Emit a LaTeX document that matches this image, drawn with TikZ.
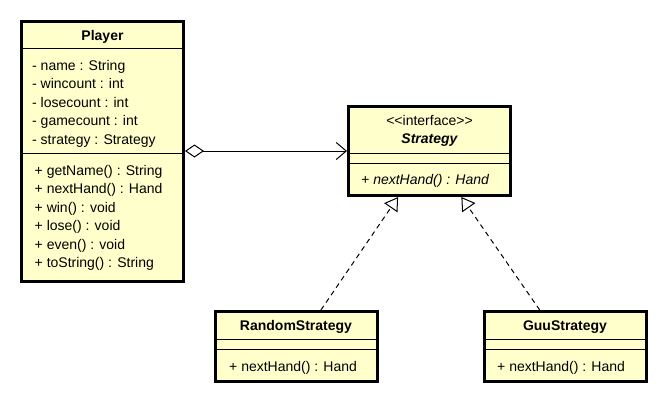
\documentclass[tikz,border=0pt]{standalone}
\usepackage{fontspec}
\setmainfont{Liberation Sans}
\usetikzlibrary{arrows.meta,calc}
\definecolor{classfill}{RGB}{255,255,204}
\newcommand{\umlfont}{\fontsize{14}{17}\selectfont}
\begin{document}
\begin{tikzpicture}[
        x=1pt, y=-1pt,
        classbox/.style={rectangle, draw, line width=3pt, fill=classfill, minimum width=162pt, inner sep=0pt},
        title/.style={anchor=base, inner sep=0pt, font=\umlfont\bfseries},
        member/.style={anchor=base west, inner sep=0pt, font=\umlfont},
        sep/.style={line width=1pt},
        aggregation/.style={{Diamond[open, length=19pt, width=13pt]}-{Straight Barb[length=10pt, width=17pt]}, line width=1pt},
        realize/.style={-{Triangle[open, fill=white, length=13pt, width=16pt]}, line width=1pt, dash pattern=on 5pt off 4pt}
    ]
        \useasboundingbox (0,0) rectangle (669,410);

        % class boxes
        \node[classbox, minimum height=260pt] (player) at (102.5,151) {};
        \node[classbox, minimum height=89pt] (strategy) at (429.5,151) {};
        \node[classbox, minimum height=70pt] (random) at (296,346.5) {};
        \node[classbox, minimum height=70pt] (guu) at (565,346.5) {};

        % compartments
        \draw[sep] ($(player.north west)+(0,28.5)$) -- ($(player.north east)+(0,28.5)$);
        \draw[sep] ($(player.north west)+(0,134)$) -- ($(player.north east)+(0,134)$);
        \draw[sep] ($(strategy.north west)+(0,48)$) -- ($(strategy.north east)+(0,48)$);
        \draw[sep] ($(strategy.north west)+(0,58)$) -- ($(strategy.north east)+(0,58)$);
        \draw[sep] ($(random.north west)+(0,29)$) -- ($(random.north east)+(0,29)$);
        \draw[sep] ($(random.north west)+(0,39)$) -- ($(random.north east)+(0,39)$);
        \draw[sep] ($(guu.north west)+(0,29)$) -- ($(guu.north east)+(0,29)$);
        \draw[sep] ($(guu.north west)+(0,39)$) -- ($(guu.north east)+(0,39)$);

        % Player
        \node[title] (playertitle) at (102.5,40.5) {Player};
        \node[member] (pname) at (32,70) {- name : String};
        \node[member] (pwin) at (32,88.6) {- wincount : int};
        \node[member] (plose) at (32,107.2) {- losecount : int};
        \node[member] (pgame) at (32,125.8) {- gamecount : int};
        \node[member] (pstrat) at (32,144.4) {- strategy : Strategy};
        \node[member] (pgetname) at (34.5,175) {+ getName() : String};
        \node[member] (pnexthand) at (34.5,193.5) {+ nextHand() : Hand};
        \node[member] (pwinm) at (34.5,212) {+ win() : void};
        \node[member] (plosem) at (34.5,230.5) {+ lose() : void};
        \node[member] (peven) at (34.5,249) {+ even() : void};
        \node[member] (ptostring) at (34.5,267.5) {+ toString() : String};

        % Strategy
        \node[member, anchor=base] (stereo) at (429.5,125) {<\kern0pt<interface>\kern0pt>};
        \node[title] (strategytitle) at (429.5,143.3) {\itshape Strategy};
        \node[member] (snexthand) at (361,184) {\itshape + nextHand() : Hand};

        % RandomStrategy and GuuStrategy
        \node[title] (randomtitle) at (296,330.7) {RandomStrategy};
        \node[member] (rnexthand) at (229,371) {+ nextHand() : Hand};
        \node[title] (guutitle) at (565,330.7) {GuuStrategy};
        \node[member] (gnexthand) at (497,371) {+ nextHand() : Hand};

        \draw[aggregation] (player) -- (strategy);
        \draw[realize] (random) -- (strategy);
        \draw[realize] (guu) -- (strategy);
    \end{tikzpicture}
\end{document}
